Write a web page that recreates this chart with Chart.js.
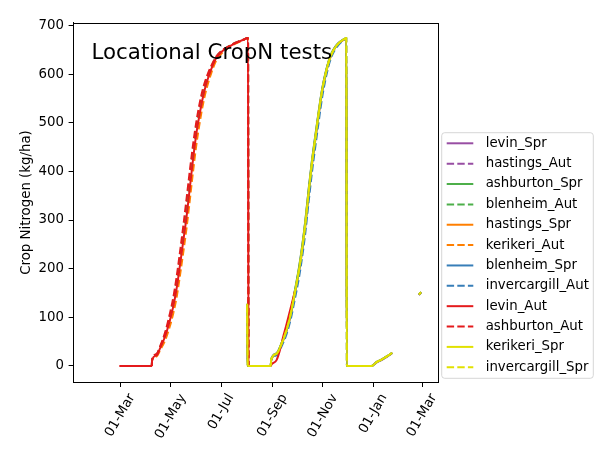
<!DOCTYPE html>
<html>
<head>
<meta charset="utf-8">
<script src="https://cdn.jsdelivr.net/npm/chart.js@4.4.1/dist/chart.umd.min.js"></script>
<style>
  html, body { margin: 0; padding: 0; background: #ffffff; }
  #c { display: block; }
</style>
</head>
<body>
<canvas id="c" width="615" height="461"></canvas>
<script>
// ---------------- data (days counted from 01-Mar) ----------------
const chartTitle = 'Locational CropN tests';
const yTitle = 'Crop Nitrogen (kg/ha)';
const xTickDays = [0, 61, 122, 184, 245, 306, 365];
const xTickLabels = ['01-Mar', '01-May', '01-Jul', '01-Sep', '01-Nov', '01-Jan', '01-Mar'];
const yTickValues = [0, 100, 200, 300, 400, 500, 600, 700];
const yTickLabels = ['0', '100', '200', '300', '400', '500', '600', '700'];

const seriesNames = ['levin_Spr', 'hastings_Aut', 'ashburton_Spr', 'blenheim_Aut', 'hastings_Spr', 'kerikeri_Aut',
                     'blenheim_Spr', 'invercargill_Aut', 'levin_Aut', 'ashburton_Aut', 'kerikeri_Spr', 'invercargill_Spr'];

const autDays = [0, 38, 38.5, 44, 48, 54, 60, 64, 68, 72, 76, 80, 84, 88, 92, 96, 100, 104, 110, 116, 124, 132, 140, 148, 154.5, 155];
const levinAutDays = [0, 38, 38.5, 44, 48, 54, 60, 64, 68, 72, 76, 80, 84, 88, 92, 96, 100, 104, 110, 116, 124, 132, 140, 148, 154.5, 155,
                      181, 184, 189, 193, 197, 201, 205, 208, 211];
const sprDays = [153.5, 154, 182, 182.5, 189, 195, 201, 206, 211, 216, 220, 224, 228, 232, 236, 240, 244, 248, 252, 256,
                 260, 264, 268, 272, 273.5, 274, 304, 310, 316, 322, 328, 340, 362, 363];

const levinAutN     = [0, 0, 13, 22, 36, 60, 94, 122, 158, 205, 255, 305, 365, 425, 478, 518, 553, 580, 610, 633, 648, 657, 664, 670, 674, 0,
                       0, 5, 12, 32, 60, 85, 112, 132, 152];
const ashburtonAutN = [0, 0, 13, 25, 40, 68, 108, 140, 182, 232, 285, 342, 400, 455, 502, 540, 570, 592, 617, 636, 650, 658, 665, 670, 674, 0];
const blenheimAutN  = [0, 0, 13, 24, 38, 64, 101, 131, 170, 219, 270, 324, 383, 440, 490, 530, 562, 586, 614, 635, 649, 658, 665, 670, 674, 0];
const hastingsAutN  = [0, 0, 13, 23, 37, 62, 98, 127, 165, 213, 263, 316, 375, 433, 484, 524, 558, 583, 612, 634, 649, 657, 664, 670, 674, 0];
const kerikeriAutN  = [0, 0, 12, 20, 32, 52, 82, 108, 140, 184, 232, 282, 340, 400, 455, 500, 538, 568, 602, 628, 645, 656, 663, 669, 674, 0];

const kerikeriSprN     = [126, 0, 0, 13, 25, 45, 73, 105, 149, 195, 240, 295, 360, 420, 470, 520, 565, 598, 625, 643, 655, 663, 669, 673, 674, 0, 0, 8, 13, 19, 26, null, 148, 150];
const invercargillSprN = [125, 0, 0, 13, 25, 46, 74, 106, 150, 196, 241, 296, 360, 419, 469, 519, 564, 597, 624, 642, 655, 663, 669, 673, 674, 0, 0, 8, 13, 19, 26, null, 148, 150];
const levinSprN        = [124, 0, 0, 13, 26, 46, 75, 108, 152, 199, 245, 300, 364, 423, 473, 522, 567, 600, 626, 644, 656, 664, 669, 673, 674, 0, 0, 7, 12, 18, 25, null, 147, 149];
const hastingsSprN     = [122, 0, 0, 12, 24, 44, 71, 103, 146, 192, 236, 291, 355, 415, 466, 517, 562, 596, 623, 642, 654, 662, 668, 672, 673, 0, 0, 8, 13, 19, 26, null, 148, 150];
const blenheimSprN     = [125, 0, 0, 13, 25, 45, 72, 104, 148, 193, 238, 293, 358, 418, 468, 518, 563, 597, 624, 643, 655, 663, 669, 673, 674, 0, 0, 8, 13, 19, 26, null, 148, 150];
const ashburtonSprN    = [126, 0, 0, 13, 26, 47, 76, 109, 154, 201, 247, 302, 366, 425, 475, 524, 568, 601, 627, 645, 656, 664, 669, 673, 674, 0, 0, 8, 13, 19, 26, null, 148, 150];
const invercargillAutN = [126, 0, 0, 12, 22, 40, 65, 95, 136, 180, 224, 276, 340, 400, 452, 502, 550, 587, 617, 638, 651, 660, 667, 672, 674, 0, 0, 8, 13, 19, 26, null, 148, 150];

const seriesX = [sprDays, autDays, sprDays, autDays, sprDays, autDays, sprDays, sprDays, levinAutDays, autDays, sprDays, sprDays];
const seriesY = [levinSprN, hastingsAutN, ashburtonSprN, blenheimAutN, hastingsSprN, kerikeriAutN,
                 blenheimSprN, invercargillAutN, levinAutN, ashburtonAutN, kerikeriSprN, invercargillSprN];

// ---------------- styles ----------------
const seriesColors = ['#984ea3', '#984ea3', '#4daf4a', '#4daf4a', '#ff7f00', '#ff7f00',
                      '#377eb8', '#377eb8', '#e41a1c', '#e41a1c', '#e1e100', '#e1e100'];
const seriesDashed = [false, true, false, true, false, true, false, true, false, true, false, true];
const DASH = [7.4, 3.2];
const FONT = 'DejaVu Sans';

Chart.defaults.font.family = FONT;
Chart.defaults.font.size = 13.33;
Chart.defaults.color = '#000000';

const N = seriesNames.length;
const datasets = seriesNames.map((name, i) => ({
  label: name,
  data: seriesX[i].map((d, j) => ({ x: d, y: seriesY[i][j] })),
  borderColor: seriesColors[i],
  backgroundColor: seriesColors[i],
  borderWidth: 2,
  borderDash: seriesDashed[i] ? DASH : [],
  borderCapStyle: seriesDashed[i] ? 'butt' : 'square',
  borderJoinStyle: 'round',
  pointRadius: 0,
  pointHoverRadius: 0,
  fill: false,
  spanGaps: false,
  cubicInterpolationMode: 'monotone',
  order: N - 1 - i
}));

const decor = {
  id: 'decor',
  afterDraw(chart) {
    const { ctx, chartArea: a, scales: { x } } = chart;
    ctx.save();
    // full frame (spines)
    ctx.strokeStyle = '#000000';
    ctx.lineWidth = 1;
    ctx.strokeRect(Math.round(a.left) + 0.5, Math.round(a.top) + 0.5,
                   Math.round(a.right) - Math.round(a.left), Math.round(a.bottom) - Math.round(a.top));

    // in-axes title
    ctx.fillStyle = '#000000';
    ctx.font = '21.33px "' + FONT + '"';
    ctx.textAlign = 'left';
    ctx.textBaseline = 'alphabetic';
    ctx.fillText(chartTitle, a.left + 0.05 * (a.right - a.left), a.top + 0.1 * (a.bottom - a.top));

    // rotated x tick labels, centred on ticks
    ctx.font = '13.33px "' + FONT + '"';
    const ang = 60 * Math.PI / 180;
    xTickDays.forEach((d, i) => {
      const px = x.getPixelForValue(d);
      const w = ctx.measureText(xTickLabels[i]).width;
      const h = 13.5;
      const bh = w * Math.sin(ang) + h * Math.cos(ang);
      const cy = a.bottom + 9.4 + bh / 2;
      ctx.save();
      ctx.translate(px, cy);
      ctx.rotate(-ang);
      ctx.textAlign = 'center';
      ctx.textBaseline = 'middle';
      ctx.fillText(xTickLabels[i], 0, 0);
      ctx.restore();
    });

    // legend (outside, right)
    const lx = a.right + 3.4, lw = 151.6, lh = 245.6;
    const lyb = a.bottom - 4, ly = lyb - lh, r = 3;
    ctx.beginPath();
    ctx.moveTo(lx + r, ly);
    ctx.lineTo(lx + lw - r, ly);
    ctx.arcTo(lx + lw, ly, lx + lw, ly + r, r);
    ctx.lineTo(lx + lw, ly + lh - r);
    ctx.arcTo(lx + lw, ly + lh, lx + lw - r, ly + lh, r);
    ctx.lineTo(lx + r, ly + lh);
    ctx.arcTo(lx, ly + lh, lx, ly + lh - r, r);
    ctx.lineTo(lx, ly + r);
    ctx.arcTo(lx, ly, lx + r, ly, r);
    ctx.closePath();
    ctx.fillStyle = 'rgba(255,255,255,0.8)';
    ctx.fill();
    ctx.strokeStyle = 'rgba(204,204,204,0.8)';
    ctx.lineWidth = 1;
    ctx.stroke();

    chart.data.datasets.forEach((ds, i) => {
      const yy = ly + 10.6 + i * 20.36;
      ctx.beginPath();
      ctx.strokeStyle = ds.borderColor;
      ctx.lineWidth = 2;
      ctx.setLineDash(ds.borderDash);
      ctx.lineCap = 'butt';
      ctx.moveTo(lx + 5, yy);
      ctx.lineTo(lx + 31.6, yy);
      ctx.stroke();
      ctx.setLineDash([]);
      ctx.fillStyle = '#000000';
      ctx.textAlign = 'left';
      ctx.textBaseline = 'middle';
      ctx.fillText(ds.label, lx + 44, yy);
    });
    ctx.restore();
  }
};

new Chart(document.getElementById('c'), {
  type: 'line',
  data: { datasets },
  options: {
    responsive: false,
    animation: false,
    devicePixelRatio: 1,
    layout: { padding: { top: 22.7, right: 176.7, left: 0, bottom: 0 } },
    plugins: { legend: { display: false }, tooltip: { enabled: false }, title: { display: false } },
    scales: {
      x: {
        type: 'linear',
        min: -56.9,
        max: 384.7,
        afterBuildTicks: (s) => { s.ticks = xTickDays.map(v => ({ value: v })); },
        afterFit: (s) => { s.height = 78.7; },
        ticks: { display: false },
        grid: { drawOnChartArea: false, drawTicks: true, tickLength: 4.7, color: '#000000', lineWidth: 1 },
        border: { display: true, color: '#000000', width: 1 }
      },
      y: {
        type: 'linear',
        min: -33.6,
        max: 705.6,
        afterBuildTicks: (s) => { s.ticks = yTickValues.map(v => ({ value: v })); },
        afterFit: (s) => { s.width = 73.3; },
        ticks: {
          padding: 4.7,
          color: '#000000',
          font: { family: FONT, size: 13.33 },
          callback: (v, i) => yTickLabels[i]
        },
        grid: { drawOnChartArea: false, drawTicks: true, tickLength: 4.7, color: '#000000', lineWidth: 1 },
        border: { display: true, color: '#000000', width: 1 },
        title: {
          display: true,
          text: yTitle,
          color: '#000000',
          font: { family: FONT, size: 13.33 },
          padding: { top: 18.7, bottom: 0 }
        }
      }
    }
  },
  plugins: [decor]
});
</script>
</body>
</html>
